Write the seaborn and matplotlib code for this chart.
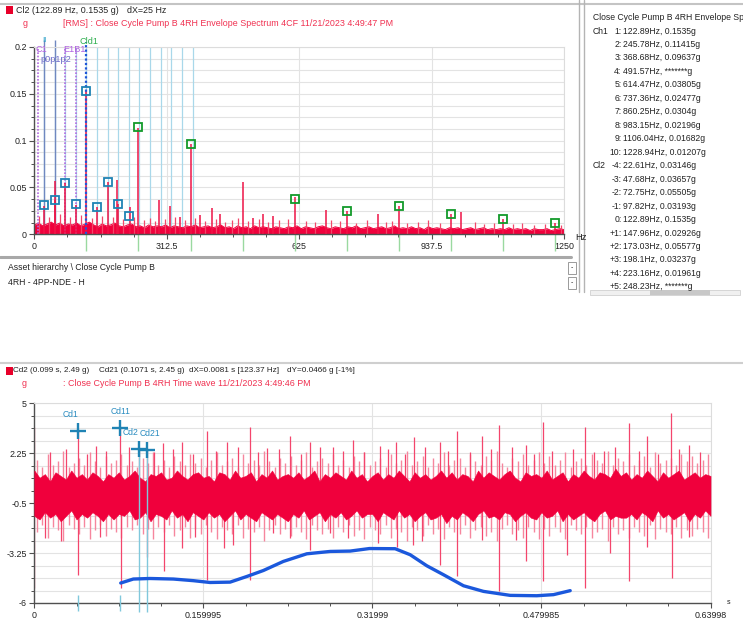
import numpy as np
import matplotlib
matplotlib.use("Agg")
import matplotlib.pyplot as plt
import matplotlib.ticker as mticker
from matplotlib.patches import Rectangle
from matplotlib.lines import Line2D
import seaborn as sns

W, H = 743, 629

# ---------------- Envelope spectrum data (Hz, g) ----------------
floor_hz = np.arange(0, 1251, 10)
floor_g = [0.010, 0.012, 0.009, 0.011, 0.013, 0.010, 0.012, 0.009, 0.011, 0.010,
           0.012, 0.009, 0.011, 0.013, 0.010, 0.008, 0.011, 0.009, 0.010, 0.012,
           0.009, 0.008, 0.010, 0.011, 0.008, 0.009, 0.007, 0.010, 0.008, 0.009,
           0.008, 0.010, 0.007, 0.009, 0.008, 0.007, 0.009, 0.008, 0.010, 0.007,
           0.008, 0.009, 0.007, 0.008, 0.010, 0.007, 0.008, 0.006, 0.009, 0.007,
           0.008, 0.006, 0.009, 0.007, 0.008, 0.007, 0.006, 0.008, 0.007, 0.006,
           0.008, 0.007, 0.009, 0.006, 0.008, 0.007, 0.006, 0.008, 0.009, 0.007,
           0.006, 0.008, 0.007, 0.006, 0.008, 0.007, 0.009, 0.006, 0.007, 0.008,
           0.006, 0.007, 0.008, 0.006, 0.007, 0.009, 0.006, 0.007, 0.006, 0.008,
           0.006, 0.007, 0.005, 0.008, 0.006, 0.007, 0.006, 0.005, 0.007, 0.006,
           0.007, 0.005, 0.006, 0.007, 0.005, 0.006, 0.007, 0.005, 0.006, 0.005,
           0.006, 0.005, 0.007, 0.005, 0.006, 0.005, 0.006, 0.004, 0.006, 0.005,
           0.005, 0.006, 0.004, 0.005, 0.006, 0.005]

peak_hz = [22.61, 47.68, 50.0, 72.75, 97.82, 122.89, 147.96, 173.03, 195.0, 198.1, 226.0,
           245.78, 295.0, 320.0, 344.0, 368.68, 391.0, 418.6, 438.0, 491.57, 517.0, 540.5,
           564.0, 614.47, 688.0, 737.36, 812.0, 860.25, 983.15, 1007.0, 1106.04, 1228.94]
peak_g = [0.030, 0.0366, 0.057, 0.055, 0.031, 0.1535, 0.029, 0.0558, 0.058, 0.032, 0.029,
          0.114, 0.037, 0.030, 0.019, 0.0964, 0.021, 0.028, 0.022, 0.056, 0.017, 0.022,
          0.020, 0.040, 0.026, 0.0248, 0.022, 0.0304, 0.022, 0.024, 0.0168, 0.0121]

minor_hz = [12, 35, 60, 85, 110, 135, 160, 185, 210, 236, 258, 272, 285, 308, 332, 356,
            380, 404, 428, 450, 466, 480, 505, 530, 552, 578, 598, 640, 662, 700, 722, 760,
            785, 830, 845, 880, 905, 930, 957, 1040, 1062, 1085, 1130, 1152, 1180, 1205, 1242]
minor_g = [0.020, 0.018, 0.022, 0.019, 0.021, 0.017, 0.020, 0.018, 0.016, 0.019, 0.015,
           0.017, 0.014, 0.016, 0.018, 0.015, 0.017, 0.014, 0.016, 0.013, 0.015, 0.017,
           0.014, 0.016, 0.013, 0.015, 0.016, 0.014, 0.013, 0.015, 0.014, 0.012, 0.015,
           0.013, 0.014, 0.012, 0.013, 0.015, 0.012, 0.013, 0.011, 0.012, 0.011, 0.012,
           0.010, 0.011, 0.010]

# Ch1 harmonic cursor (1x .. 10x), 4x has no value
harm_idx = ["1:", "2:", "3:", "4:", "5:", "6:", "7:", "8:", "9:", "10:"]
harm_hz = [122.89, 245.78, 368.68, 491.57, 614.47, 737.36, 860.25, 983.15, 1106.04, 1228.94]
harm_g = [0.1535, 0.11415, 0.09637, None, 0.03805, 0.02477, 0.0304, 0.02196, 0.01682, 0.01207]

# Cl2 sideband cursor (-4 .. +5), +5 has no value
side_idx = ["-4:", "-3:", "-2:", "-1:", "0:", "+1:", "+2:", "+3:", "+4:", "+5:"]
side_hz = [22.61, 47.68, 72.75, 97.82, 122.89, 147.96, 173.03, 198.1, 223.16, 248.23]
side_g = [0.03146, 0.03657, 0.05505, 0.03193, 0.1535, 0.02926, 0.05577, 0.03237, 0.01961, None]

side_lines_hz = [22.61, 47.68, 72.75, 97.82, 122.89, 147.96, 173.03, 198.1, 223.16, 248.23,
                 273.3, 298.37, 323.44, 348.51, 373.58]
bearing_lines_hz = [8.0, 72.75, 97.82]

# ---------------- Time waveform data (s, g) ----------------
core_t = np.arange(0, 0.6401, 0.005)
core_hi = [1.3, 0.9, 1.1, 0.7, 1.2, 1.0, 0.8, 1.3, 0.9, 1.1, 0.8, 1.2, 1.0, 0.7, 1.1, 0.9,
           1.2, 0.8, 1.0, 1.3, 0.9, 0.7, 1.1, 1.0, 1.2, 0.8, 0.9, 1.3, 1.0, 0.8, 1.1, 1.2,
           0.9, 1.0, 0.7, 1.2, 1.1, 0.8, 1.3, 0.9, 1.0, 1.2, 0.7, 1.1, 0.9, 1.3, 0.8, 1.0,
           1.1, 0.9, 1.2, 0.8, 1.0, 1.3, 0.7, 1.1, 0.9, 1.2, 1.0, 0.8, 1.3, 0.9, 1.1, 0.7,
           1.0, 1.2, 0.8, 1.1, 0.9, 1.3, 1.0, 0.7, 1.2, 0.9, 1.1, 0.8, 1.0, 1.3, 0.9, 1.2,
           0.8, 1.1, 1.0, 0.7, 1.3, 0.9, 1.2, 1.0, 0.8, 1.1, 1.3, 0.9, 0.7, 1.2, 1.0, 1.1,
           0.9, 1.3, 0.8, 1.0, 1.2, 0.7, 1.1, 0.9, 1.3, 1.0, 0.8, 1.2, 1.1, 0.9, 1.4, 1.0,
           1.2, 0.8, 1.1, 0.9, 1.3, 1.0, 0.7, 1.2, 0.9, 1.1, 1.3, 0.8, 1.0, 1.2, 0.9, 1.1,
           1.0]
core_lo = [-1.2, -1.4, -1.0, -1.3, -1.1, -1.5, -1.2, -0.9, -1.4, -1.1, -1.3, -1.0, -1.2, -1.5, -1.1, -1.4,
           -1.1, -1.2, -0.9, -1.4, -1.3, -1.0, -1.5, -1.1, -1.2, -1.4, -0.9, -1.3, -1.1, -1.5, -1.0, -1.2,
           -1.4, -1.0, -1.3, -1.1, -1.5, -1.2, -0.9, -1.4, -1.1, -1.3, -1.5, -1.0, -1.2, -1.4, -1.1, -1.3,
           -1.5, -1.1, -1.3, -0.9, -1.4, -1.2, -1.0, -1.5, -1.1, -1.3, -1.0, -1.4, -1.2, -0.9, -1.3, -1.1,
           -1.1, -1.5, -1.0, -1.2, -1.4, -0.9, -1.3, -1.1, -1.5, -1.2, -1.0, -1.4, -1.3, -1.1, -1.6, -1.2,
           -1.4, -1.0, -1.2, -1.5, -1.1, -0.9, -1.3, -1.2, -1.4, -1.0, -1.1, -1.5, -1.2, -1.0, -1.3, -1.4,
           -1.0, -1.3, -1.2, -0.9, -1.5, -1.1, -1.4, -1.2, -1.0, -1.3, -1.5, -1.1, -0.9, -1.4, -1.2, -1.3,
           -1.3, -1.1, -1.4, -1.0, -1.2, -1.5, -0.9, -1.3, -1.1, -1.4, -1.2, -1.0, -1.5, -1.1, -1.3, -0.9,
           -1.2]

hair_t = np.arange(0.0025, 0.64, 0.005)
hair_hi = [1.9, 1.5, 2.2, 1.6, 1.8, 2.4, 1.5, 1.7, 2.0, 1.6, 2.3, 1.8, 1.5, 2.1, 1.7, 1.9,
           2.2, 1.6, 1.8, 1.5, 2.0, 1.7, 2.3, 1.6, 1.9, 1.5, 2.1, 1.8, 1.6, 2.2, 1.7, 2.0,
           1.5, 1.9, 2.3, 1.6, 1.8, 2.0, 1.5, 2.2, 1.7, 1.9, 1.6, 2.4, 1.8, 1.5, 2.0, 1.7,
           2.1, 1.6, 1.9, 2.3, 1.5, 1.8, 2.0, 1.7, 2.2, 1.6, 1.9, 1.5, 2.1, 1.8, 2.3, 1.6,
           1.8, 2.0, 1.5, 2.2, 1.7, 1.9, 2.4, 1.6, 1.8, 2.1, 1.5, 2.0, 1.7, 2.3, 1.6, 1.9,
           2.0, 1.5, 2.2, 1.8, 1.6, 2.1, 1.9, 2.4, 1.7, 1.5, 2.0, 1.8, 2.2, 1.6, 1.9, 2.3,
           1.7, 2.1, 1.6, 1.9, 2.3, 1.5, 1.8, 2.0, 1.6, 2.2, 1.9, 1.7, 2.4, 1.6, 2.0, 1.8,
           2.2, 1.6, 1.9, 2.1, 1.5, 2.3, 1.7, 1.9, 2.0, 1.6, 2.2, 1.8, 2.1, 1.7, 1.9, 2.2]
hair_lo = [-2.1, -1.7, -2.4, -1.8, -2.0, -2.6, -1.7, -1.9, -2.2, -1.8, -2.5, -2.0, -1.7, -2.3, -1.9, -2.1,
           -2.4, -1.8, -2.0, -1.7, -2.2, -1.9, -2.5, -1.8, -2.1, -1.7, -2.3, -2.0, -1.8, -2.4, -1.9, -2.2,
           -1.7, -2.1, -2.5, -1.8, -2.0, -2.2, -1.7, -2.4, -1.9, -2.1, -1.8, -2.6, -2.0, -1.7, -2.2, -1.9,
           -2.3, -1.8, -2.1, -2.5, -1.7, -2.0, -2.2, -1.9, -2.4, -1.8, -2.1, -1.7, -2.3, -2.0, -2.5, -1.8,
           -2.0, -2.2, -1.7, -2.4, -1.9, -2.1, -2.6, -1.8, -2.0, -2.3, -1.7, -2.2, -1.9, -2.5, -1.8, -2.1,
           -2.2, -1.7, -2.4, -2.0, -1.8, -2.3, -2.1, -2.6, -1.9, -1.7, -2.2, -2.0, -2.4, -1.8, -2.1, -2.5,
           -1.9, -2.3, -1.8, -2.1, -2.5, -1.7, -2.0, -2.2, -1.8, -2.4, -2.1, -1.9, -2.6, -1.8, -2.2, -2.0,
           -2.4, -1.8, -2.1, -2.3, -1.7, -2.5, -1.9, -2.1, -2.2, -1.8, -2.4, -2.0, -2.3, -1.9, -2.1, -2.4]

up_t = [0.0, 0.041, 0.0586, 0.0807, 0.099, 0.1071, 0.122, 0.1395, 0.1632, 0.182, 0.204,
        0.22, 0.242, 0.261, 0.283, 0.302, 0.327, 0.342, 0.3595, 0.384, 0.40, 0.424, 0.440,
        0.465, 0.481, 0.521, 0.539, 0.563, 0.580, 0.603, 0.620,
        0.015, 0.03, 0.05, 0.068, 0.09, 0.113, 0.131, 0.15, 0.172, 0.193, 0.212, 0.232,
        0.252, 0.27, 0.292, 0.312, 0.335, 0.351, 0.37, 0.392, 0.412, 0.432, 0.452, 0.473,
        0.49, 0.51, 0.53, 0.55, 0.572, 0.59, 0.61, 0.63]
up_v = [3.7, 3.5, 2.65, 3.63, 2.49, 2.45, 2.83, 2.88, 3.5, 2.88, 3.71,
        2.53, 3.2, 2.88, 2.6, 3.0, 2.65, 2.88, 3.13, 2.88, 3.5, 3.2, 3.81,
        2.7, 3.99, 3.69, 2.35, 3.93, 3.2, 4.45, 2.7,
        2.3, 2.5, 2.2, 2.4, 2.6, 2.3, 2.5, 2.2, 2.4, 2.6, 2.3, 2.5,
        2.2, 2.6, 2.4, 2.3, 2.5, 2.2, 2.6, 2.4, 2.3, 2.5, 2.6, 2.2,
        2.4, 2.5, 2.3, 2.6, 2.4, 2.2, 2.5, 2.3]

dn_t = [0.0, 0.010, 0.025, 0.0417, 0.062, 0.082, 0.1071, 0.1228, 0.1395, 0.152, 0.1638,
        0.1796, 0.188, 0.204, 0.226, 0.242, 0.261, 0.280, 0.297, 0.3257, 0.343, 0.3588,
        0.367, 0.384, 0.400, 0.424, 0.4402, 0.456, 0.4655, 0.481, 0.504, 0.5214, 0.545,
        0.563, 0.580, 0.6035, 0.620]
dn_v = [-5.2, -2.43, -2.56, -4.44, -2.34, -5.18, -3.44, -4.26, -2.98, -2.34, -4.72,
        -2.98, -2.79, -4.72, -2.15, -2.43, -3.07, -2.15, -2.43, -2.70, -2.89, -2.79,
        -2.61, -3.89, -4.54, -2.52, -5.36, -2.52, -3.71, -4.81, -3.34, -5.18, -3.25,
        -4.81, -2.89, -4.63, -2.34]

# hand-drawn blue trend line
trend_t = [0.0818, 0.0937, 0.1095, 0.1316, 0.1505, 0.1663, 0.1853, 0.2011, 0.2168, 0.2357,
           0.2579, 0.2800, 0.2989, 0.3172, 0.3415, 0.3557, 0.3715, 0.3872, 0.4062, 0.4251,
           0.4504, 0.4756, 0.4914, 0.5072]
trend_v = [-4.90, -4.68, -4.65, -4.68, -4.77, -4.87, -4.85, -4.54, -4.21, -3.71,
           -3.29, -3.16, -3.14, -3.00, -3.01, -3.34, -3.95, -4.44, -5.05, -5.36,
           -5.58, -5.60, -5.54, -5.32]

cd_names = ["Cd1", "Cd11", "Cd2", "Cd21"]
cd_t = [0.041, 0.0807, 0.099, 0.1071]
cd_v = [3.48, 3.63, 2.49, 2.45]

# ---------------- styling ----------------
sns.set_style("white")
plt.rcParams['font.family'] = ['Liberation Sans', 'DejaVu Sans']

RED = '#f0003c'
PINK = '#f6869e'
CYAN = '#1f83b4'
GREEN = '#129a2a'
TXT = '#222222'
FS = 6.4

fig = plt.figure(figsize=(W / 100, H / 100), dpi=100)


def px_axes(x0, y0, x1, y1):
    return fig.add_axes([x0 / W, 1 - y1 / H, (x1 - x0) / W, (y1 - y0) / H])


def ftext(x, y, s, **kw):
    kw.setdefault('fontsize', FS)
    kw.setdefault('color', TXT)
    kw.setdefault('va', 'center')
    fig.text(x / W, 1 - y / H, s, **kw)


def hline(x0, x1, y, **kw):
    fig.add_artist(Line2D([x0 / W, x1 / W], [1 - y / H, 1 - y / H], **kw))


def vline(x, y0, y1, **kw):
    fig.add_artist(Line2D([x / W, x / W], [1 - y0 / H, 1 - y1 / H], **kw))


def style_axes(ax):
    for side in ['top', 'right']:
        ax.spines[side].set_color('#dcdcdc')
        ax.spines[side].set_linewidth(0.8)
    for side in ['left', 'bottom']:
        ax.spines[side].set_color('#505050')
        ax.spines[side].set_linewidth(1.0)
    ax.tick_params(which='major', length=3.5, width=0.8, color='#505050',
                   labelsize=FS, labelcolor=TXT, pad=2)
    ax.tick_params(which='minor', length=2, width=0.7, color='#505050')
    ax.tick_params(left=True, bottom=True, which='both')
    ax.grid(True, which='both', axis='y', color='#e3e3e3', lw=0.8)
    ax.grid(True, which='major', axis='x', color='#e3e3e3', lw=0.8)
    ax.set_axisbelow(True)
    ax.set_xlabel('')
    ax.set_ylabel('')


# ---------------- panel frames ----------------
hline(0, W, 4, color='#c4c4c4', lw=1.5)
vline(579, 0, 292, color='#b4b4b4', lw=1.0)
vline(584, 0, 292, color='#b4b4b4', lw=1.0)
hline(0, 571, 257.5, color='#a8a8a8', lw=2.2)
hline(0, W, 363, color='#cfcfcf', lw=1.5)
for yb in [262, 277]:
    fig.add_artist(Rectangle((568 / W, 1 - (yb + 12) / H), 8 / W, 12 / H,
                             transform=fig.transFigure, fc='white', ec='#9a9a9a', lw=0.7))
    ftext(572, yb + 6, '-', ha='center', fontsize=5)
fig.add_artist(Rectangle((590 / W, 1 - 295 / H), 150 / W, 5 / H,
                         transform=fig.transFigure, fc='#f0f0f0', ec='#d0d0d0', lw=0.6))
fig.add_artist(Rectangle((650 / W, 1 - 295 / H), 60 / W, 5 / H,
                         transform=fig.transFigure, fc='#c8c8c8', ec='none'))

# ---------------- top header ----------------
fig.add_artist(Rectangle((6 / W, 1 - 14 / H), 7 / W, 8 / H, transform=fig.transFigure,
                         fc='#e8002a', ec='none'))
ftext(16, 10.5, 'Cl2 (122.89 Hz, 0.1535 g)')
ftext(127, 10.5, 'dX=25 Hz')
ftext(23, 23.5, 'g', color='#f03050')
ftext(63, 23.5, '[RMS] : Close Cycle Pump B 4RH Envelope Spectrum 4CF 11/21/2023 4:49:47 PM',
      color='#f03050')

# ---------------- spectrum ----------------
ax1 = px_axes(34.3, 47, 564, 234.3)
ax1.fill_between(floor_hz, 0, floor_g, color=RED, lw=0, zorder=2)
sns.lineplot(x=floor_hz, y=floor_g, ax=ax1, color=RED, lw=0.7, zorder=2)
ax1.vlines(minor_hz, 0, minor_g, color='#f2476a', lw=0.9, zorder=2)
ax1.vlines(peak_hz, 0, peak_g, color='#ee1446', lw=1.1, zorder=3)

ax1.vlines(side_lines_hz, 0, 0.2, color='#a9d8ea', lw=0.9, zorder=1)
ax1.vlines(side_hz[:2], 0, 0.207, color='#7088c0', lw=1.0, zorder=1, clip_on=False)
ax1.vlines(bearing_lines_hz, 0, 0.2, color='#b26ae0', lw=1.2, linestyles=(0, (1, 1)),
           zorder=2)
ax1.vlines([harm_hz[0]], 0, 0.205, color='#1f55d8', lw=1.6, linestyles=(0, (1, 1)),
           zorder=4, clip_on=False)
ax1.vlines(harm_hz, -0.018, 0, color='#9ad9a0', lw=1.0, clip_on=False)

sb = [(f, g) for f, g in zip(side_hz, side_g) if g is not None]
ax1.plot([f for f, g in sb], [g for f, g in sb], ls='none', marker='s', ms=5.5,
         mfc='none', mec=CYAN, mew=1.3, zorder=5, clip_on=False)
hb = [(f, g) for f, g in zip(harm_hz[1:], harm_g[1:]) if g is not None]
ax1.plot([f for f, g in hb], [g for f, g in hb], ls='none', marker='s', ms=5.5,
         mfc='none', mec=GREEN, mew=1.3, zorder=5, clip_on=False)

ax1.set_xlim(0, 1250)
ax1.set_ylim(0, 0.2)
ax1.set_xticks([0, 312.5, 625, 937.5, 1250])
ax1.set_xticklabels(['0', '312.5', '625', '937.5', '1250'])
ax1.set_yticks([0, 0.05, 0.1, 0.15, 0.2])
ax1.set_yticklabels(['0', '0.05', '0.1', '0.15', '0.2'])
ax1.xaxis.set_minor_locator(mticker.MultipleLocator(78.125))
ax1.yaxis.set_minor_locator(mticker.MultipleLocator(0.0125))
style_axes(ax1)
ftext(575, 238, 'Hz', fontsize=6.8)

# cursor labels
ftext(35, 50, 'C1', color='#b060e0', fontsize=6.6)
ftext(40.5, 60, 'p0p1p2', color='#6a6ac8', fontsize=6.6)
ftext(63, 50, 'E1B1', color='#b060e0', fontsize=6.6)
ftext(80, 42, 'Cld1', color='#30b050', fontsize=6.6)
ftext(42, 40, 'Il', color='#2aa0c8', fontsize=6.0)

# ---------------- asset text ----------------
ftext(8, 268, 'Asset hierarchy \\ Close Cycle Pump B', fontsize=6.2)
ftext(8, 282, '4RH - 4PP-NDE - H', fontsize=6.2)

# ---------------- right cursor list ----------------
ftext(593, 17, 'Close Cycle Pump B 4RH Envelope Spectrum', fontsize=6.2)
row = 0
for i, (idx, f, g) in enumerate(zip(harm_idx, harm_hz, harm_g)):
    y = 31 + 13.47 * row
    if i == 0:
        ftext(593, y, 'Ch1', fontsize=6.2)
    gtxt = '*******' if g is None else f'{g:g}'
    ftext(621.5, y, idx, ha='right', fontsize=6.2)
    ftext(623, y, f'{f:g}Hz, {gtxt}g', fontsize=6.2)
    row += 1
for i, (idx, f, g) in enumerate(zip(side_idx, side_hz, side_g)):
    y = 31 + 13.47 * row
    if i == 0:
        ftext(593, y, 'Cl2', fontsize=6.2)
    gtxt = '*******' if g is None else f'{g:g}'
    ftext(621.5, y, idx, ha='right', fontsize=6.2)
    ftext(623, y, f'{f:g}Hz, {gtxt}g', fontsize=6.2)
    row += 1

# ---------------- bottom header ----------------
fig.add_artist(Rectangle((6 / W, 1 - 375 / H), 7 / W, 8 / H, transform=fig.transFigure,
                         fc='#e8002a', ec='none'))
ftext(13, 370.5, 'Cd2 (0.099 s, 2.49 g)', fontsize=5.9)
ftext(99, 370.5, 'Cd21 (0.1071 s, 2.45 g)', fontsize=5.9)
ftext(189, 370.5, 'dX=0.0081 s [123.37 Hz]', fontsize=5.9)
ftext(287, 370.5, 'dY=0.0466 g [-1%]', fontsize=5.9)
ftext(22, 383, 'g', color='#f03050')
ftext(63, 383, ': Close Cycle Pump B 4RH Time wave 11/21/2023 4:49:46 PM', color='#f03050')

# ---------------- time waveform ----------------
ax2 = px_axes(34.3, 403.3, 710.5, 603)
ax2.vlines(hair_t, 0, hair_hi, color=PINK, lw=1.0, zorder=2)
ax2.vlines(hair_t, 0, hair_lo, color=PINK, lw=1.0, zorder=2)
ax2.vlines(up_t, 0, up_v, color='#f4456c', lw=0.9, zorder=2.5)
ax2.vlines(dn_t, 0, dn_v, color='#f4456c', lw=0.9, zorder=2.5)
ax2.fill_between(core_t, core_lo, core_hi, color=RED, lw=0.4, ec=RED, zorder=3)

ax2.vlines(cd_t[2:], -6.5, cd_v[2:], color='#80c8dc', lw=1.0, zorder=4, clip_on=False)
ax2.vlines(cd_t[:2], -6.45, -5.55, color='#80c8dc', lw=1.0, zorder=4, clip_on=False)

sns.lineplot(x=trend_t, y=trend_v, ax=ax2, color='#1b58dc', lw=2.4, zorder=6,
             solid_capstyle='round')

ax2.plot(cd_t, cd_v, ls='none', marker='+', ms=11.5, mew=1.7, color=CYAN, zorder=7)
label_dx = [-7, 1, -8.5, 2.5]
for name, t, v, dx in zip(cd_names, cd_t, cd_v, label_dx):
    ax2.annotate(name, (t, v), xytext=(dx * 0.72, 8.5), textcoords='offset points',
                 ha='center', va='bottom', fontsize=6.2, color='#2a8cc0')

ax2.set_xlim(0, 0.63998)
ax2.set_ylim(-6, 5)
ax2.set_xticks([0, 0.159995, 0.31999, 0.479985, 0.63998])
ax2.set_xticklabels(['0', '0.159995', '0.31999', '0.479985', '0.63998'])
ax2.set_yticks([-6, -3.25, -0.5, 2.25, 5])
ax2.set_yticklabels(['-6', '-3.25', '-0.5', '2.25', '5'])
ax2.xaxis.set_minor_locator(mticker.FixedLocator(np.linspace(0, 0.63998, 17)))
ax2.yaxis.set_minor_locator(mticker.FixedLocator(np.arange(-6, 5.01, 0.6875)))
style_axes(ax2)
ftext(727, 603, 's', fontsize=5)

fig.savefig('out.png', dpi=100)
